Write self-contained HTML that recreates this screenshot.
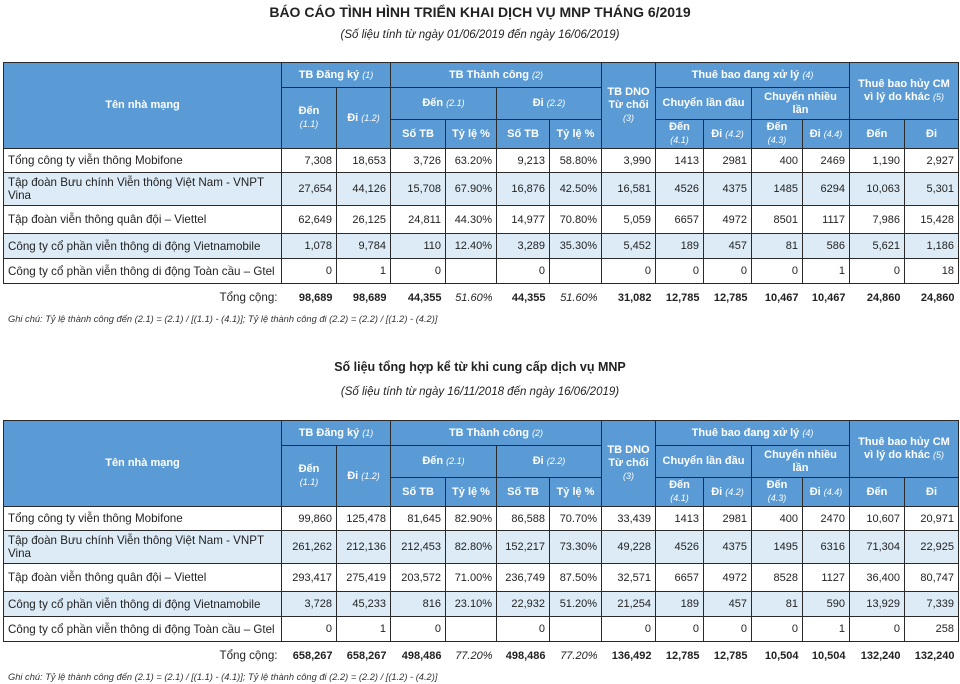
<!DOCTYPE html>
<html><head><meta charset="utf-8"><style>
body{margin:0;width:960px;height:684px;background:#fff;font-family:"Liberation Sans",sans-serif;color:#222;position:relative;overflow:hidden}
.t{position:absolute;left:0;width:960px;text-align:center}
.h1{font-weight:bold;font-size:14px}
.sub{font-style:italic;font-size:11.5px}
table{position:absolute;left:3px;border-collapse:collapse;table-layout:fixed;font-size:11px}
td{border:1px solid #2a2a2a;padding:0 4px;white-space:nowrap;overflow:hidden;text-align:right}
thead td{background:#5b9bd5;color:#fff;font-weight:bold;text-align:center;white-space:normal;line-height:13px;padding:0 2px}
thead i{font-weight:normal;font-size:9px}
td.n{text-align:left;white-space:normal;line-height:13px;font-size:11.6px}
tr.b td{background:#ddebf7}
tr.tot td{border:none;font-weight:bold;font-size:11px}
tr.tot td i{font-weight:normal}
.note{position:absolute;left:8px;font-size:9.3px;font-style:italic;color:#333}
</style></head><body>

<div class="t h1" style="top:4px">BÁO CÁO TÌNH HÌNH TRIỂN KHAI DỊCH VỤ MNP THÁNG 6/2019</div>
<div class="t sub" style="top:29px">(Số liệu tính từ ngày 01/06/2019 đến ngày 16/06/2019)</div>

<table style="top:62px">
<colgroup><col style="width:278px"><col style="width:55px"><col style="width:54px"><col style="width:55px"><col style="width:51px"><col style="width:53px"><col style="width:52px"><col style="width:54px"><col style="width:48px"><col style="width:48px"><col style="width:51px"><col style="width:47px"><col style="width:55px"><col style="width:54px"></colgroup>
<thead>
<tr style="height:25px"><td rowspan="3">Tên nhà mạng</td><td colspan="2">TB Đăng ký <i>(1)</i></td><td colspan="4">TB Thành công <i>(2)</i></td><td rowspan="3">TB DNO Từ chối <i>(3)</i></td><td colspan="4">Thuê bao đang xử lý <i>(4)</i></td><td colspan="2" rowspan="2">Thuê bao hủy CM<br>vì lý do khác <i>(5)</i></td></tr>
<tr style="height:32px"><td rowspan="2">Đến<br><i>(1.1)</i></td><td rowspan="2">Đi <i>(1.2)</i></td><td colspan="2">Đến <i>(2.1)</i></td><td colspan="2">Đi <i>(2.2)</i></td><td colspan="2">Chuyển lần đầu</td><td colspan="2">Chuyển nhiều<br>lần</td></tr>
<tr style="height:29px"><td>Số TB</td><td>Tỷ lệ %</td><td>Số TB</td><td>Tỷ lệ %</td><td>Đến<br><i>(4.1)</i></td><td>Đi <i>(4.2)</i></td><td>Đến<br><i>(4.3)</i></td><td>Đi <i>(4.4)</i></td><td>Đến</td><td>Đi</td></tr>
</thead>
<tbody>
<tr style="height:24px"><td class="n">Tổng công ty viễn thông Mobifone</td><td>7,308</td><td>18,653</td><td>3,726</td><td>63.20%</td><td>9,213</td><td>58.80%</td><td>3,990</td><td>1413</td><td>2981</td><td>400</td><td>2469</td><td>1,190</td><td>2,927</td></tr>
<tr class="b" style="height:33px"><td class="n">Tập đoàn Bưu chính Viễn thông Việt Nam - VNPT<br>Vina</td><td>27,654</td><td>44,126</td><td>15,708</td><td>67.90%</td><td>16,876</td><td>42.50%</td><td>16,581</td><td>4526</td><td>4375</td><td>1485</td><td>6294</td><td>10,063</td><td>5,301</td></tr>
<tr style="height:28px"><td class="n">Tập đoàn viễn thông quân đội – Viettel</td><td>62,649</td><td>26,125</td><td>24,811</td><td>44.30%</td><td>14,977</td><td>70.80%</td><td>5,059</td><td>6657</td><td>4972</td><td>8501</td><td>1117</td><td>7,986</td><td>15,428</td></tr>
<tr class="b" style="height:25px"><td class="n">Công ty cổ phần viễn thông di động Vietnamobile</td><td>1,078</td><td>9,784</td><td>110</td><td>12.40%</td><td>3,289</td><td>35.30%</td><td>5,452</td><td>189</td><td>457</td><td>81</td><td>586</td><td>5,621</td><td>1,186</td></tr>
<tr style="height:25px"><td class="n">Công ty cổ phần viễn thông di động Toàn cầu – Gtel</td><td>0</td><td>1</td><td>0</td><td></td><td>0</td><td></td><td>0</td><td>0</td><td>0</td><td>0</td><td>1</td><td>0</td><td>18</td></tr>
<tr class="tot" style="height:28px"><td style="font-weight:normal;font-size:11.6px">Tổng cộng:</td><td>98,689</td><td>98,689</td><td>44,355</td><td><i>51.60%</i></td><td>44,355</td><td><i>51.60%</i></td><td>31,082</td><td>12,785</td><td>12,785</td><td>10,467</td><td>10,467</td><td>24,860</td><td>24,860</td></tr>
</tbody></table>
<div class="note" style="top:314px">Ghi chú: Tỷ lệ thành công đến (2.1) = (2.1) / [(1.1) - (4.1)]; Tỷ lệ thành công đi (2.2) = (2.2) / [(1.2) - (4.2)]</div>

<div class="t h1" style="top:360px;font-size:12.5px">Số liệu tổng hợp kể từ khi cung cấp dịch vụ MNP</div>
<div class="t sub" style="top:386px">(Số liệu tính từ ngày 16/11/2018 đến ngày 16/06/2019)</div>

<table style="top:420px">
<colgroup><col style="width:278px"><col style="width:55px"><col style="width:54px"><col style="width:55px"><col style="width:51px"><col style="width:53px"><col style="width:52px"><col style="width:54px"><col style="width:48px"><col style="width:48px"><col style="width:51px"><col style="width:47px"><col style="width:55px"><col style="width:54px"></colgroup>
<thead>
<tr style="height:25px"><td rowspan="3">Tên nhà mạng</td><td colspan="2">TB Đăng ký <i>(1)</i></td><td colspan="4">TB Thành công <i>(2)</i></td><td rowspan="3">TB DNO Từ chối <i>(3)</i></td><td colspan="4">Thuê bao đang xử lý <i>(4)</i></td><td colspan="2" rowspan="2">Thuê bao hủy CM<br>vì lý do khác <i>(5)</i></td></tr>
<tr style="height:32px"><td rowspan="2">Đến<br><i>(1.1)</i></td><td rowspan="2">Đi <i>(1.2)</i></td><td colspan="2">Đến <i>(2.1)</i></td><td colspan="2">Đi <i>(2.2)</i></td><td colspan="2">Chuyển lần đầu</td><td colspan="2">Chuyển nhiều<br>lần</td></tr>
<tr style="height:29px"><td>Số TB</td><td>Tỷ lệ %</td><td>Số TB</td><td>Tỷ lệ %</td><td>Đến<br><i>(4.1)</i></td><td>Đi <i>(4.2)</i></td><td>Đến<br><i>(4.3)</i></td><td>Đi <i>(4.4)</i></td><td>Đến</td><td>Đi</td></tr>
</thead>
<tbody>
<tr style="height:24px"><td class="n">Tổng công ty viễn thông Mobifone</td><td>99,860</td><td>125,478</td><td>81,645</td><td>82.90%</td><td>86,588</td><td>70.70%</td><td>33,439</td><td>1413</td><td>2981</td><td>400</td><td>2470</td><td>10,607</td><td>20,971</td></tr>
<tr class="b" style="height:33px"><td class="n">Tập đoàn Bưu chính Viễn thông Việt Nam - VNPT<br>Vina</td><td>261,262</td><td>212,136</td><td>212,453</td><td>82.80%</td><td>152,217</td><td>73.30%</td><td>49,228</td><td>4526</td><td>4375</td><td>1495</td><td>6316</td><td>71,304</td><td>22,925</td></tr>
<tr style="height:28px"><td class="n">Tập đoàn viễn thông quân đội – Viettel</td><td>293,417</td><td>275,419</td><td>203,572</td><td>71.00%</td><td>236,749</td><td>87.50%</td><td>32,571</td><td>6657</td><td>4972</td><td>8528</td><td>1127</td><td>36,400</td><td>80,747</td></tr>
<tr class="b" style="height:25px"><td class="n">Công ty cổ phần viễn thông di động Vietnamobile</td><td>3,728</td><td>45,233</td><td>816</td><td>23.10%</td><td>22,932</td><td>51.20%</td><td>21,254</td><td>189</td><td>457</td><td>81</td><td>590</td><td>13,929</td><td>7,339</td></tr>
<tr style="height:25px"><td class="n">Công ty cổ phần viễn thông di động Toàn cầu – Gtel</td><td>0</td><td>1</td><td>0</td><td></td><td>0</td><td></td><td>0</td><td>0</td><td>0</td><td>0</td><td>1</td><td>0</td><td>258</td></tr>
<tr class="tot" style="height:28px"><td style="font-weight:normal;font-size:11.6px">Tổng cộng:</td><td>658,267</td><td>658,267</td><td>498,486</td><td><i>77.20%</i></td><td>498,486</td><td><i>77.20%</i></td><td>136,492</td><td>12,785</td><td>12,785</td><td>10,504</td><td>10,504</td><td>132,240</td><td>132,240</td></tr>
</tbody></table>
<div class="note" style="top:672px">Ghi chú: Tỷ lệ thành công đến (2.1) = (2.1) / [(1.1) - (4.1)]; Tỷ lệ thành công đi (2.2) = (2.2) / [(1.2) - (4.2)]</div>
</body></html>
